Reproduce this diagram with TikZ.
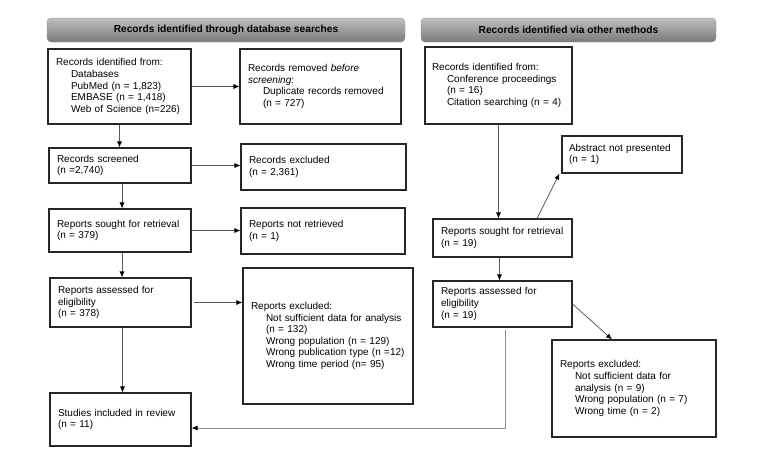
\documentclass[tikz,border=0pt]{standalone}
\usepackage{fontspec}
\setmainfont{Liberation Sans}
\usetikzlibrary{arrows.meta}
\newcommand{\myind}{\hspace*{15pt}}
\begin{document}
\begin{tikzpicture}[x=1pt,y=-1pt,
  every node/.style={font=\fontsize{10}{11.6}\selectfont},
  box/.style={draw=black!85, line width=1.1pt, rectangle, inner xsep=8pt, inner ysep=2pt, align=left, anchor=center},
  hdr/.style={draw=black!40, rounded corners=4pt, top color=black!25, bottom color=black!52, minimum height=24pt, font=\fontsize{10.2}{12}\selectfont\bfseries, inner sep=0pt},
  arr/.style={draw=black!65, line width=0.75pt, -{Latex[length=6pt,width=5pt,black]}},
  arrl/.style={draw=black!45, line width=0.75pt, -{Latex[length=6pt,width=5pt,black]}}
]
\useasboundingbox (0,0) rectangle (763,463);
% headers
\node[hdr, minimum width=358pt] (h1) at (226,30) {Records identified through database searches};
\node[hdr, minimum width=295pt] (h2) at (568.5,30) {Records identified via other methods};
% left column
\node[box, minimum width=143pt, minimum height=75pt, text width=127pt] (A) at (119.5,86.5)
 {Records identified from:\\ \myind Databases\\ \myind PubMed (n = 1,823)\\ \myind EMBASE (n = 1,418)\\ \myind Web of Science (n=226)};
\node[box, minimum width=161pt, minimum height=75pt, text width=145pt] (B) at (320.5,86.5)
 {Records removed \textit{before}\\ \textit{screening}:\\ \myind Duplicate records removed\\ \myind (n = 727)};
\node[box, minimum width=142pt, minimum height=35pt, text width=126pt] (D) at (120,165.5)
 {Records screened\\ (n =2,740)};
\node[box, minimum width=165pt, minimum height=46pt, text width=149pt] (E) at (323.5,167)
 {Records excluded\\ (n = 2,361)};
\node[box, minimum width=142pt, minimum height=43pt, text width=126pt] (F) at (120,230.5)
 {Reports sought for retrieval\\ (n = 379)};
\node[box, minimum width=164pt, minimum height=46pt, text width=148pt] (G) at (323,231)
 {Reports not retrieved\\ (n = 1)};
\node[box, minimum width=141pt, minimum height=49pt, text width=125pt] (H) at (120.5,302.5)
 {Reports assessed for\\ eligibility\\ (n = 378)};
\node[box, minimum width=170pt, minimum height=136pt, text width=154pt] (I) at (328,336)
 {Reports excluded:\\ \myind Not sufficient data for analysis\\ \myind (n = 132)\\ \myind Wrong population (n = 129)\\ \myind Wrong publication type (n =12)\\ \myind Wrong time period (n= 95)\\[10pt]};
\node[box, minimum width=141pt, minimum height=53pt, text width=125pt] (J) at (120.5,419.5)
 {Studies included in review\\ (n = 11)};
% right column
\node[box, minimum width=147pt, minimum height=77pt, text width=133pt, inner xsep=7pt] (C) at (498.5,85.5)
 {Records identified from:\\ \myind Conference proceedings\\ \myind (n = 16)\\ \myind Citation searching (n = 4)\\[6pt]};
\node[box, minimum width=120pt, minimum height=37pt, text width=106pt, inner xsep=7pt] (M) at (622,154.5)
 {Abstract not presented\\ (n = 1)};
\node[box, minimum width=139pt, minimum height=38pt, text width=123pt] (L) at (502.5,238)
 {Reports sought for retrieval\\ (n = 19)};
\node[box, minimum width=139pt, minimum height=46pt, text width=123pt] (K) at (502.5,304)
 {Reports assessed for\\ eligibility\\ (n = 19)};
\node[box, minimum width=164pt, minimum height=97pt, text width=148pt] (N) at (634,388.5)
 {Reports excluded:\\ \myind Not sufficient data for\\ \myind analysis (n = 9)\\ \myind Wrong population (n = 7)\\ \myind Wrong time (n = 2)};
% connectors left
\draw[arr] (A.south) -- (A.south |- D.north);
\draw[arr] (A.east) -- (B.west);
\draw[arr] (D.east) -- (D.east -| E.west);
\draw[arr] ([xshift=2pt]D.south) -- ([xshift=2pt]D.south |- F.north);
\draw[arr] (F.east) -- (F.east -| G.west);
\draw[arr] ([xshift=2pt]F.south) -- ([xshift=2pt]F.south |- H.north);
\draw[arr] ([xshift=2pt]H.east) -- (H.east -| I.west);
\draw[arr] ([xshift=2pt]H.south) -- ([xshift=2pt]H.south |- J.north);
% connectors right
\draw[arr] (C.south) -- (C.south |- L.north);
\draw[arr] ([xshift=34.5pt]L.north) -- ([xshift=-2pt]M.south west);
\draw[arr] ([xshift=-3pt]L.south) -- ([xshift=-3pt]L.south |- K.north);
\draw[arr] (K.east) -- ([xshift=-22pt]N.north);
\draw[arrl] ([xshift=2.5pt,yshift=-2pt]K.south) |- ([yshift=-8.5pt]J.east);
\end{tikzpicture}
\end{document}
